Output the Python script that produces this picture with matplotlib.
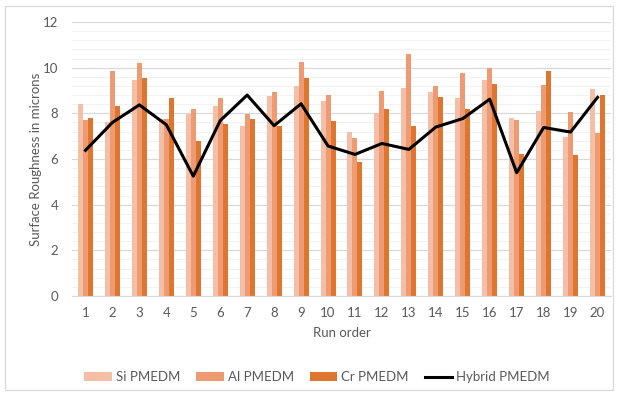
import matplotlib
matplotlib.use("Agg")
import matplotlib.pyplot as plt
from matplotlib.patches import Rectangle
import numpy as np

plt.rcParams['font.family'] = ['Lato', 'DejaVu Sans']

runs = list(range(1, 21))
si_pmedm = [8.4, 7.6, 9.45, 7.75, 7.95, 8.3, 7.45, 8.75, 9.2, 8.55,
            7.2, 8.0, 9.1, 8.95, 8.65, 9.45, 7.8, 8.1, 6.95, 9.05]
al_pmedm = [7.7, 9.87, 10.2, 7.75, 8.2, 8.65, 7.95, 8.95, 10.23, 8.82,
            6.9, 9.0, 10.58, 9.18, 9.75, 10.0, 7.7, 9.22, 8.07, 7.13]
cr_pmedm = [7.8, 8.3, 9.56, 8.67, 6.8, 7.55, 7.77, 7.45, 9.53, 7.68,
            5.88, 8.2, 7.45, 8.7, 8.18, 9.27, 6.23, 9.85, 6.17, 8.8]
hybrid_pmedm = [6.38, 7.6, 8.37, 7.5, 5.25, 7.68, 8.8, 7.46, 8.42, 6.57,
                6.2, 6.68, 6.42, 7.4, 7.77, 8.62, 5.4, 7.38, 7.18, 8.7]
y_ticks = [0, 2, 4, 6, 8, 10, 12]

c_si = '#F4BEA7'
c_al = '#EE9B73'
c_cr = '#DE7630'
text_c = '#595959'

fig = plt.figure(figsize=(6.19, 3.94), dpi=100)
ax = fig.add_axes([72 / 619, 1 - 296 / 394, (611 - 72) / 619, (296 - 22) / 394])

x = np.arange(len(runs))
w = 0.185
b1 = ax.bar(x - w, si_pmedm, w, color=c_si, label='Si PMEDM', zorder=2)
b2 = ax.bar(x, al_pmedm, w, color=c_al, label='Al PMEDM', zorder=2)
b3 = ax.bar(x + w, cr_pmedm, w, color=c_cr, label='Cr PMEDM', zorder=2)
ln, = ax.plot(x, hybrid_pmedm, color='black', lw=2.2, label='Hybrid PMEDM', zorder=3)

ax.set_xlim(-0.5, len(runs) - 0.5)
ax.set_ylim(0, 12)
ax.set_yticks(y_ticks)
ax.set_yticks(np.arange(0, 12.01, 0.4), minor=True)
ax.set_xticks(x)
ax.set_xticklabels([str(r) for r in runs])
ax.grid(axis='y', which='major', color='#D9D9D9', lw=0.9, zorder=0)
ax.grid(axis='y', which='minor', color='#F2F2F2', lw=0.8, zorder=0)
ax.tick_params(axis='both', which='both', length=0, colors=text_c, labelsize=9.5)
ax.tick_params(axis='y', pad=10)
ax.tick_params(axis='x', pad=8)
for s in ['top', 'right', 'left']:
    ax.spines[s].set_visible(False)
ax.spines['bottom'].set_color('#D9D9D9')

ax.set_ylabel('Surface Roughness in microns', color=text_c, fontsize=9.5)
ax.yaxis.set_label_coords(-0.056, 0.5)
ax.set_xlabel('Run order', color=text_c, fontsize=9.5, labelpad=6)

leg = fig.legend([b1, b2, b3, ln], ['Si PMEDM', 'Al PMEDM', 'Cr PMEDM', 'Hybrid PMEDM'],
                 loc='center', bbox_to_anchor=(317 / 619, 1 - 377 / 394), ncol=4,
                 frameon=False, fontsize=9.5, handlelength=2.1, handleheight=0.6,
                 columnspacing=1.2, handletextpad=0.3)
for t in leg.get_texts():
    t.set_color(text_c)

fig.patches.append(Rectangle((5 / 619, 4 / 394), 608 / 619, 384 / 394,
                             transform=fig.transFigure, fill=False,
                             edgecolor='#D9D9D9', lw=0.9))

fig.savefig('out.png', dpi=100)
